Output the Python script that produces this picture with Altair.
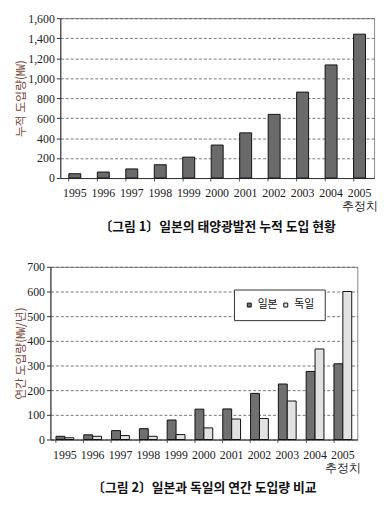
import altair as alt
import pandas as pd

years = ["1995", "1996", "1997", "1998", "1999", "2000", "2001", "2002", "2003", "2004", "2005"]
cumulative = [43, 60, 91, 133, 209, 330, 452, 637, 860, 1132, 1440]
japan_annual = [13, 19, 36, 44, 79, 123, 124, 187, 225, 276, 307]
germany_annual = [7, 13, 16, 13, 20, 47, 83, 85, 156, 367, 600]
series = ["일본", "독일"]

title1 = "〔그림 1〕일본의 태양광발전 누적 도입 현황"
title2 = "〔그림 2〕일본과 독일의 연간 도입량 비교"
ytitle1 = "누적  도입량(㎿)"
ytitle2 = "연간  도입량(㎿/년)"

df1 = pd.DataFrame({"year": years, "value": cumulative})
rows = []
for y, j, g in zip(years, japan_annual, germany_annual):
    rows.append({"year": y, "country": series[0], "value": j})
    rows.append({"year": y, "country": series[1], "value": g})
df2 = pd.DataFrame(rows)

SERIF = "Liberation Serif"
SANS = "Noto Sans CJK KR"
label_expr = "datum.value == '2005' ? ['2005', '추정치'] : datum.value"

def x_axis(title):
    return alt.Axis(
        title=title, labelAngle=0, labelExpr=label_expr,
        labelFont=SERIF, labelFontSize=12, labelColor="#222", labelLineHeight=13,
        titleFont=SANS, titleFontSize=13, titleFontWeight="bold", titleColor="#111",
        titlePadding=9, ticks=True, tickSize=3, bandPosition=0, tickColor="#555",
        domainColor="#333", grid=False, labelPadding=7,
    )

def y_axis(title, values, fmt, tx, h):
    return alt.Axis(
        title=title, values=values, format=fmt,
        labelFont=SERIF, labelFontSize=12, labelColor="#222",
        titleFont=SANS, titleFontSize=12, titleFontWeight="normal", titleColor="#7b4b3a",
        titleX=tx, titleY=h / 2, ticks=True, tickSize=4, tickColor="#333",
        domainColor="#333", grid=True, gridColor="#555", gridDash=[3, 2], gridWidth=0.8,
        labelPadding=2,
    )

FRAME = alt.ViewBackground(stroke="#8a8a8a", strokeWidth=1)

def spacer():
    return alt.Chart(pd.DataFrame({"a": [0]})).mark_point(opacity=0).encode(
        x=alt.value(0), y=alt.value(0)
    ).properties(width=1, height=1, view=alt.ViewBackground(stroke=None))

c1 = alt.Chart(df1).mark_bar(color="#6a6a6a", stroke="#111", strokeWidth=1).encode(
    x=alt.X("year:N", sort=years, scale=alt.Scale(paddingInner=0.58, paddingOuter=0.3), axis=x_axis(title1)),
    y=alt.Y("value:Q", scale=alt.Scale(domain=[0, 1600]),
            axis=y_axis(ytitle1, list(range(0, 1601, 200)), ",d", -33, 162)),
).properties(width=318, height=162, view=FRAME)

c2 = alt.Chart(df2).mark_bar(stroke="#111", strokeWidth=1).encode(
    x=alt.X("year:N", sort=years, scale=alt.Scale(paddingInner=0.36, paddingOuter=0.2), axis=x_axis(title2)),
    xOffset=alt.XOffset("country:N", sort=series),
    y=alt.Y("value:Q", scale=alt.Scale(domain=[0, 700]),
            axis=y_axis(ytitle2, list(range(0, 701, 100)), "d", -23, 175)),
    color=alt.Color("country:N", sort=series,
                    scale=alt.Scale(domain=series, range=["#707070", "#e2e2e2"]),
                    legend=alt.Legend(
                        title=None, orient="none", legendX=226, legendY=275, direction="horizontal",
                        fillColor="white", strokeColor="#333", padding=10,
                        symbolType="square", symbolSize=16, symbolStrokeColor="#111", symbolStrokeWidth=1,
                        labelFont=SANS, labelFontSize=11, labelColor="#111", columnPadding=2,
                        labelOffset=3,
                    )),
).properties(width=311, height=175, view=FRAME)

row1 = alt.hconcat(spacer(), c1, spacing=0)
row2 = alt.hconcat(spacer(), c2, spacing=0)

chart = alt.vconcat(row1, row2, spacing=26).properties(
    padding={"top": 0, "left": 0, "right": 2, "bottom": 2}
).configure(background="white")

chart.save("out.html", embed_options={"renderer": "svg", "actions": False})
